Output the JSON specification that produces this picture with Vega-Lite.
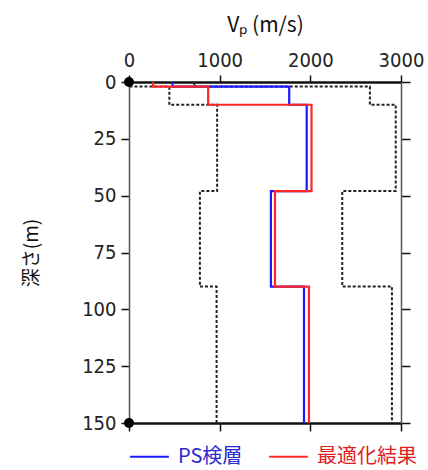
{
  "$schema": "https://vega.github.io/schema/vega-lite/v6.json",
  "autosize": "none",
  "width": 272,
  "height": 341,
  "padding": {"left": 129, "top": 82, "right": 27, "bottom": 47},
  "background": "white",
  "config": {
    "view": {"stroke": null},
    "axis": {"grid": false, "labelFont": "'DejaVu Sans Condensed', 'Liberation Sans', sans-serif", "labelFontSize": 20, "labelColor": "#222", "tickColor": "#111", "tickWidth": 1.5, "titleColor": "#111", "format": "d"}
  },
  "datasets": {
    "bounds": [
      {"bound": "lower", "ord": 1, "vp": 0, "depth": 0},
      {"bound": "lower", "ord": 2, "vp": 0, "depth": 2},
      {"bound": "lower", "ord": 3, "vp": 445, "depth": 2},
      {"bound": "lower", "ord": 4, "vp": 445, "depth": 10},
      {"bound": "lower", "ord": 5, "vp": 972, "depth": 10},
      {"bound": "lower", "ord": 6, "vp": 972, "depth": 48},
      {"bound": "lower", "ord": 7, "vp": 782, "depth": 48},
      {"bound": "lower", "ord": 8, "vp": 782, "depth": 90},
      {"bound": "lower", "ord": 9, "vp": 966, "depth": 90},
      {"bound": "lower", "ord": 10, "vp": 966, "depth": 150},
      {"bound": "upper", "ord": 1, "vp": 720, "depth": 0},
      {"bound": "upper", "ord": 2, "vp": 720, "depth": 2},
      {"bound": "upper", "ord": 3, "vp": 2657, "depth": 2},
      {"bound": "upper", "ord": 4, "vp": 2657, "depth": 10},
      {"bound": "upper", "ord": 5, "vp": 2942, "depth": 10},
      {"bound": "upper", "ord": 6, "vp": 2942, "depth": 48},
      {"bound": "upper", "ord": 7, "vp": 2352, "depth": 48},
      {"bound": "upper", "ord": 8, "vp": 2352, "depth": 90},
      {"bound": "upper", "ord": 9, "vp": 2900, "depth": 90},
      {"bound": "upper", "ord": 10, "vp": 2900, "depth": 150}
    ],
    "profiles": [
      {"series": "PS検層", "ord": 1, "vp": 480, "depth": 0},
      {"series": "PS検層", "ord": 2, "vp": 480, "depth": 2},
      {"series": "PS検層", "ord": 3, "vp": 1767, "depth": 2},
      {"series": "PS検層", "ord": 4, "vp": 1767, "depth": 10},
      {"series": "PS検層", "ord": 5, "vp": 1960, "depth": 10},
      {"series": "PS検層", "ord": 6, "vp": 1960, "depth": 48},
      {"series": "PS検層", "ord": 7, "vp": 1565, "depth": 48},
      {"series": "PS検層", "ord": 8, "vp": 1565, "depth": 90},
      {"series": "PS検層", "ord": 9, "vp": 1930, "depth": 90},
      {"series": "PS検層", "ord": 10, "vp": 1930, "depth": 150},
      {"series": "最適化結果", "ord": 1, "vp": 265, "depth": 0},
      {"series": "最適化結果", "ord": 2, "vp": 265, "depth": 2},
      {"series": "最適化結果", "ord": 3, "vp": 873, "depth": 2},
      {"series": "最適化結果", "ord": 4, "vp": 873, "depth": 10},
      {"series": "最適化結果", "ord": 5, "vp": 2013, "depth": 10},
      {"series": "最適化結果", "ord": 6, "vp": 2013, "depth": 48},
      {"series": "最適化結果", "ord": 7, "vp": 1610, "depth": 48},
      {"series": "最適化結果", "ord": 8, "vp": 1610, "depth": 90},
      {"series": "最適化結果", "ord": 9, "vp": 1985, "depth": 90},
      {"series": "最適化結果", "ord": 10, "vp": 1985, "depth": 150}
    ],
    "dots": [
      {"vp": 0, "depth": 0},
      {"vp": 0, "depth": 150}
    ]
  },
  "layer": [
    {
      "data": {"name": "bounds"},
      "mark": {"type": "line", "stroke": "#222", "strokeWidth": 2, "strokeDash": [3, 2], "interpolate": "linear"},
      "encoding": {
        "x": {"field": "vp", "type": "quantitative", "scale": {"domain": [0, 3000], "nice": false, "zero": false},
          "axis": {"orient": "top", "values": [0, 1000, 2000, 3000], "title": "Vₚ (m/s)", "titleFont": "Noto Sans CJK JP", "titleFontSize": 21, "titleFontWeight": "normal", "titlePadding": 15, "tickSize": 7, "labelPadding": 5, "domainColor": "#111", "domainWidth": 2.5, "labelFlush": false}},
        "y": {"field": "depth", "type": "quantitative", "scale": {"domain": [0, 150], "reverse": true, "nice": false, "zero": false},
          "axis": {"orient": "left", "values": [0, 25, 50, 75, 100, 125, 150], "title": "深さ(m)", "titleFont": "Noto Sans CJK JP", "titleFontSize": 19, "titleFontWeight": "normal", "titlePadding": 40, "tickSize": 8, "labelPadding": 5, "domainColor": "#555", "domainWidth": 1.5, "labelFlush": false}},
        "detail": {"field": "bound"},
        "order": {"field": "ord"}
      }
    },
    {
      "data": {"name": "profiles"},
      "mark": {"type": "line", "strokeWidth": 2.2, "interpolate": "linear"},
      "encoding": {
        "x": {"field": "vp", "type": "quantitative",
          "axis": {"orient": "bottom", "values": [0, 1000, 2000, 3000], "labels": false, "title": null, "tickSize": 8, "domainColor": "#111", "domainWidth": 2.5}},
        "y": {"field": "depth", "type": "quantitative",
          "axis": {"orient": "right", "values": [0, 25, 50, 75, 100, 125, 150], "labels": false, "title": null, "tickSize": 9, "domainColor": "#555", "domainWidth": 1.5}},
        "color": {"field": "series", "type": "nominal",
          "scale": {"domain": ["PS検層", "最適化結果"], "range": ["#1a1aff", "#ff2626"]},
          "legend": {"orient": "none", "legendX": 0, "legendY": 354, "direction": "horizontal", "title": null,
            "symbolType": "stroke", "symbolSize": 1500, "symbolStrokeWidth": 2, "labelFont": "Noto Sans CJK JP", "labelFontSize": 20,
            "labelColor": {"expr": "datum.label == 'PS検層' ? '#2a2ad0' : '#e02020'"},
            "labelOffset": 8, "columnPadding": 22, "labelLimit": 200}},
        "order": {"field": "ord"}
      }
    },
    {
      "data": {"name": "dots"},
      "mark": {"type": "circle", "color": "#000", "size": 100, "opacity": 1, "clip": false},
      "encoding": {
        "x": {"field": "vp", "type": "quantitative", "axis": null},
        "y": {"field": "depth", "type": "quantitative", "axis": null}
      }
    }
  ],
  "resolve": {"axis": {"x": "independent", "y": "independent"}}
}
